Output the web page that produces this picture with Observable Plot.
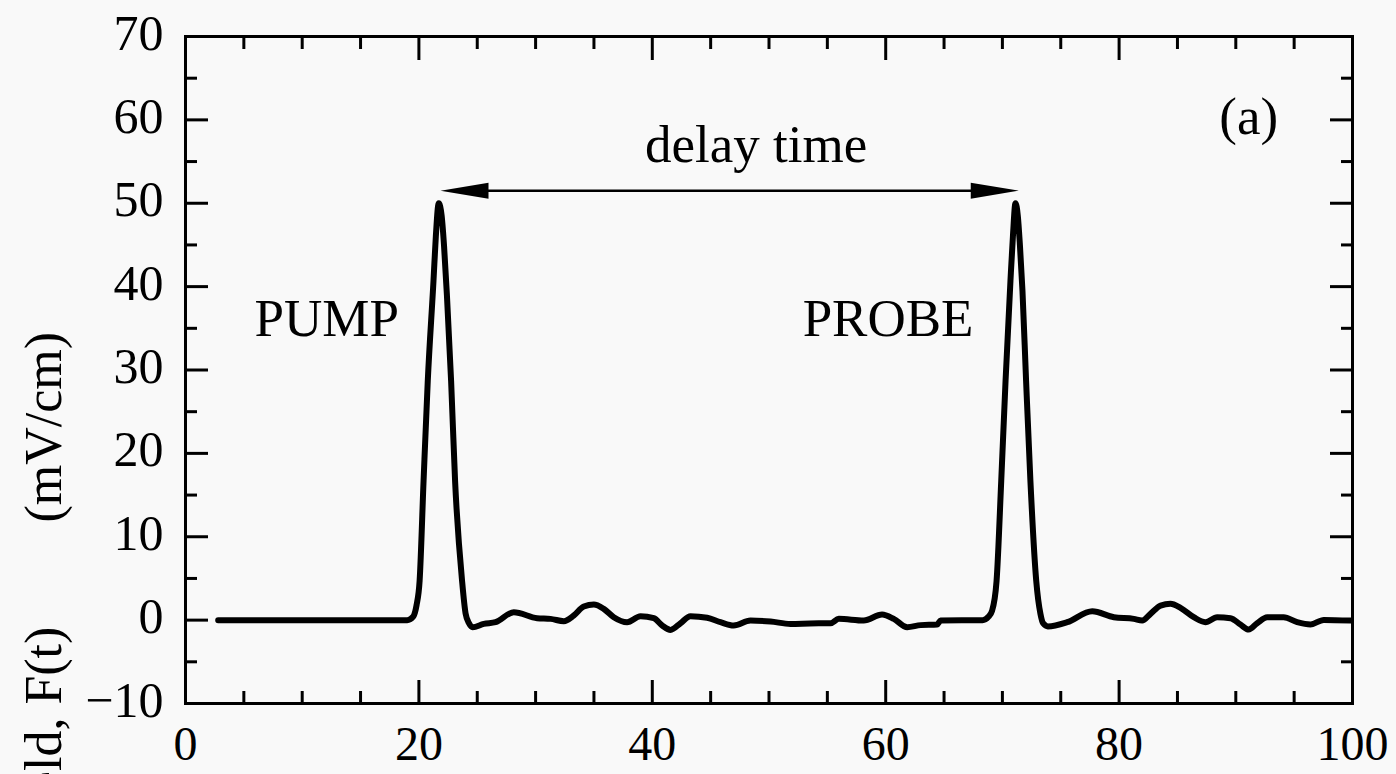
<!DOCTYPE html>
<html>
<head>
<meta charset="utf-8">
<script src="https://cdn.jsdelivr.net/npm/d3@7"></script>
<script src="https://cdn.jsdelivr.net/npm/@observablehq/plot@0.6"></script>
<style>
  html, body { margin: 0; padding: 0; background: #f9f9f9; }
  #chart { width: 1396px; height: 774px; overflow: hidden; }
</style>
</head>
<body>
<div id="chart"></div>
<script>
// ---- data ----
const time = [2.8, 6, 10, 14, 18, 18.6, 19.0, 19.5, 19.8, 20.06, 20.4, 20.76, 21.25, 21.45, 21.7, 21.95, 22.15, 22.4, 22.76, 23.1, 23.7, 24.0, 24.3, 24.6,
  25.56, 26.56, 28.13, 30.13, 31.28, 32.42, 33.27, 34.13, 34.99, 35.84, 36.7, 37.84, 38.99, 40.13, 40.85, 41.56, 42.42, 43.27, 44.7, 45.84, 46.98,
  48.41, 50.13, 51.84, 53.5, 55.27, 55.98, 58.12, 59.69, 60.69, 61.84, 63.0, 64.41, 64.7, 66.5, 68.3, 68.8, 69.12, 69.5, 69.9, 70.27, 70.69, 70.9,
  71.12, 71.32, 71.5, 71.72, 72.03, 72.4, 72.9, 73.26, 73.5, 73.9, 75.55, 77.7, 79.55, 81.26, 81.98, 82.69, 83.55, 84.4, 85.26, 86.4, 87.4, 88.4, 89.55,
  90.4, 91.1, 91.83, 92.69, 94.1, 95.26, 96.4, 97.54, 99.83];
const field = [0, 0, 0, 0, 0, 0, 0, 0.4, 1.8, 4.7, 16.7, 28.7, 40.7, 46, 50, 48.5, 45, 39, 28.7, 16.7, 4.7, 0.8, -0.4, -0.85,
  -0.45, -0.25, 0.95, 0.23, 0.15, -0.13, 0.55, 1.63, 1.87, 1.35, 0.35, -0.25, 0.47, 0.23, -0.65, -1.17, -0.37, 0.47, 0.28, -0.25, -0.65,
  -0.05, -0.17, -0.45, -0.4, -0.37, 0.15, -0.05, 0.67, 0.15, -0.85, -0.6, -0.53, -0.05, 0, 0, 0.4, 1.15, 4.7, 16.7, 28.7, 40.7, 46,
  50, 48.5, 45, 39.5, 28.7, 16.7, 4.7, 0.75, -0.4, -0.75, -0.25, 1.07, 0.35, 0.15, -0.05, 0.75, 1.75, 1.95, 1.47, 0.35, -0.25, 0.35, 0.23,
  -0.53, -1.13, -0.37, 0.35, 0.35, -0.25, -0.53, 0.03, -0.05];

const xMajor = [0, 20, 40, 60, 80, 100];
const xMinor = [5, 10, 15, 25, 30, 35, 45, 50, 55, 65, 70, 75, 85, 90, 95];
const yMajor = [-10, 0, 10, 20, 30, 40, 50, 60, 70];
const yMinor = [-5, 5, 15, 25, 35, 45, 55, 65];

const yTitle = ["Field, F(t)\u2003\u2003(mV/cm)"];
const labelText = ["delay time", "PUMP", "PROBE", "(a)"];
const labelX = [48.9, 12.1, 60.2, 91.1];
const labelY = [54.9, 34.1, 34.1, 58.3];

const arrowY = 51.5;
const arrowStart = 21.85;
const arrowEnd = 71.4;

// ---- build ----
const series = time.map((t, i) => ({t, v: field[i]}));
const labels = labelText.map((s, i) => ({s, x: labelX[i], y: labelY[i]}));

const headRight = {draw(ctx) { ctx.moveTo(0, 0); ctx.lineTo(-48, -8); ctx.lineTo(-48, 8); ctx.closePath(); }};
const headLeft = {draw(ctx) { ctx.moveTo(0, 0); ctx.lineTo(48, -8); ctx.lineTo(48, 8); ctx.closePath(); }};

const tickOpts = {label: null, fill: "none", strokeWidth: 3};

const chart = Plot.plot({
  width: 1396,
  height: 774,
  marginLeft: 185,
  marginRight: 44,
  marginTop: 36,
  marginBottom: 71,
  style: {fontFamily: "'Liberation Serif', 'Times New Roman', serif", fontSize: "50px", background: "#f9f9f9", color: "#000"},
  x: {domain: [0, 100]},
  y: {domain: [-10, 70]},
  marks: [
    // tick marks (inward), all four sides
    Plot.axisX({...tickOpts, anchor: "bottom", ticks: xMajor, tickSize: -23}),
    Plot.axisX({...tickOpts, anchor: "bottom", ticks: xMinor, tickSize: -12}),
    Plot.axisX({...tickOpts, anchor: "top", ticks: xMajor, tickSize: -23}),
    Plot.axisX({...tickOpts, anchor: "top", ticks: xMinor, tickSize: -12}),
    Plot.axisY({...tickOpts, anchor: "left", ticks: yMajor, tickSize: -23}),
    Plot.axisY({...tickOpts, anchor: "left", ticks: yMinor, tickSize: -12}),
    Plot.axisY({...tickOpts, anchor: "right", ticks: yMajor, tickSize: -23}),
    Plot.axisY({...tickOpts, anchor: "right", ticks: yMinor, tickSize: -12}),
    // tick labels
    Plot.axisX({anchor: "bottom", ticks: xMajor, tickSize: 0, tickPadding: 22, label: null, fontSize: 48}),
    Plot.axisY({anchor: "left", ticks: yMajor, tickSize: 0, tickPadding: 22, label: null, fontSize: 50, dy: -3}),
    Plot.frame({stroke: "#000", strokeWidth: 3}),
    // y title (partly cut off at the bottom edge, as in the reference)
    Plot.text(yTitle, {frameAnchor: "left", text: d => d, rotate: -90, textAnchor: "end", dx: -141, dy: -38, fontSize: 52, fill: "#000"}),
    // signal
    Plot.line(series, {x: "t", y: "v", stroke: "#000", strokeWidth: 6, curve: "monotone-x", strokeLinejoin: "round", strokeLinecap: "round"}),
    // delay-time arrow
    Plot.ruleY([arrowY], {x1: arrowStart + 2, x2: arrowEnd - 2, stroke: "#000", strokeWidth: 2.5}),
    Plot.dot([arrowEnd], {x: d => d, y: () => arrowY, symbol: headRight, fill: "#000", stroke: "none"}),
    Plot.dot([arrowStart], {x: d => d, y: () => arrowY, symbol: headLeft, fill: "#000", stroke: "none"}),
    // annotations
    Plot.text(labels, {x: "x", y: "y", text: "s", lineAnchor: "bottom", fontSize: 53, fill: "#000"})
  ]
});
document.getElementById("chart").appendChild(chart);
</script>
</body>
</html>
